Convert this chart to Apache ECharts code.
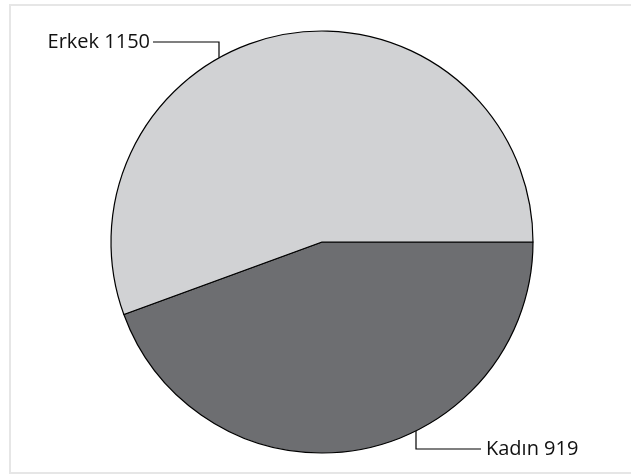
<!DOCTYPE html>
<html>
<head>
<meta charset="utf-8">
<script src="https://cdn.jsdelivr.net/npm/echarts@6/dist/echarts.min.js"></script>
<style>
  html, body { margin: 0; padding: 0; background: #fff; }
  #chart { width: 631px; height: 475px; }
</style>
</head>
<body>
<div id="chart"></div>
<script>
// data
var categories = ["Kadın", "Erkek"];
var values = [919, 1150];
var colors = ["#6d6e71", "#d1d2d4"];

// pie geometry (px)
var cx = 322, cy = 242, r = 211;

var chart = echarts.init(document.getElementById("chart"));

function edgeY(x, up) {
    var d = Math.sqrt(r * r - (x - cx) * (x - cx));
    return up ? cy - d : cy + d;
}

var option = {
    animation: false,
    graphic: [{
        type: 'rect',
        shape: {x: 10, y: 5, width: 640, height: 468},
        style: {fill: 'none', stroke: '#e6e6e6', lineWidth: 2},
        silent: true
    }],
    series: [{
        type: 'pie',
        center: [cx, cy],
        radius: [0, r],
        startAngle: 0,
        clockwise: true,
        data: categories.map(function (c, i) {
            return {name: c, value: values[i], itemStyle: {color: colors[i]}};
        }),
        itemStyle: {borderColor: '#000', borderWidth: 1.2},
        label: {
            show: true,
            formatter: '{b} {c}',
            color: '#111',
            fontSize: 20,
            fontFamily: 'Open Sans'
        },
        labelLine: {show: true, lineStyle: {color: '#000', width: 1.2}},
        labelLayout: function (p) {
            if (p.dataIndex === 1) {
                var lx = 219, ty = 42;
                return {
                    x: 150, y: ty, align: 'right', verticalAlign: 'middle',
                    labelLinePoints: [[lx, edgeY(lx, true)], [lx, ty], [153, ty]]
                };
            }
            var kx = 416, ky = 449;
            return {
                x: 486, y: ky, align: 'left', verticalAlign: 'middle',
                labelLinePoints: [[kx, edgeY(kx, false)], [kx, ky], [481, ky]]
            };
        }
    }]
};
chart.setOption(option);
</script>
</body>
</html>
